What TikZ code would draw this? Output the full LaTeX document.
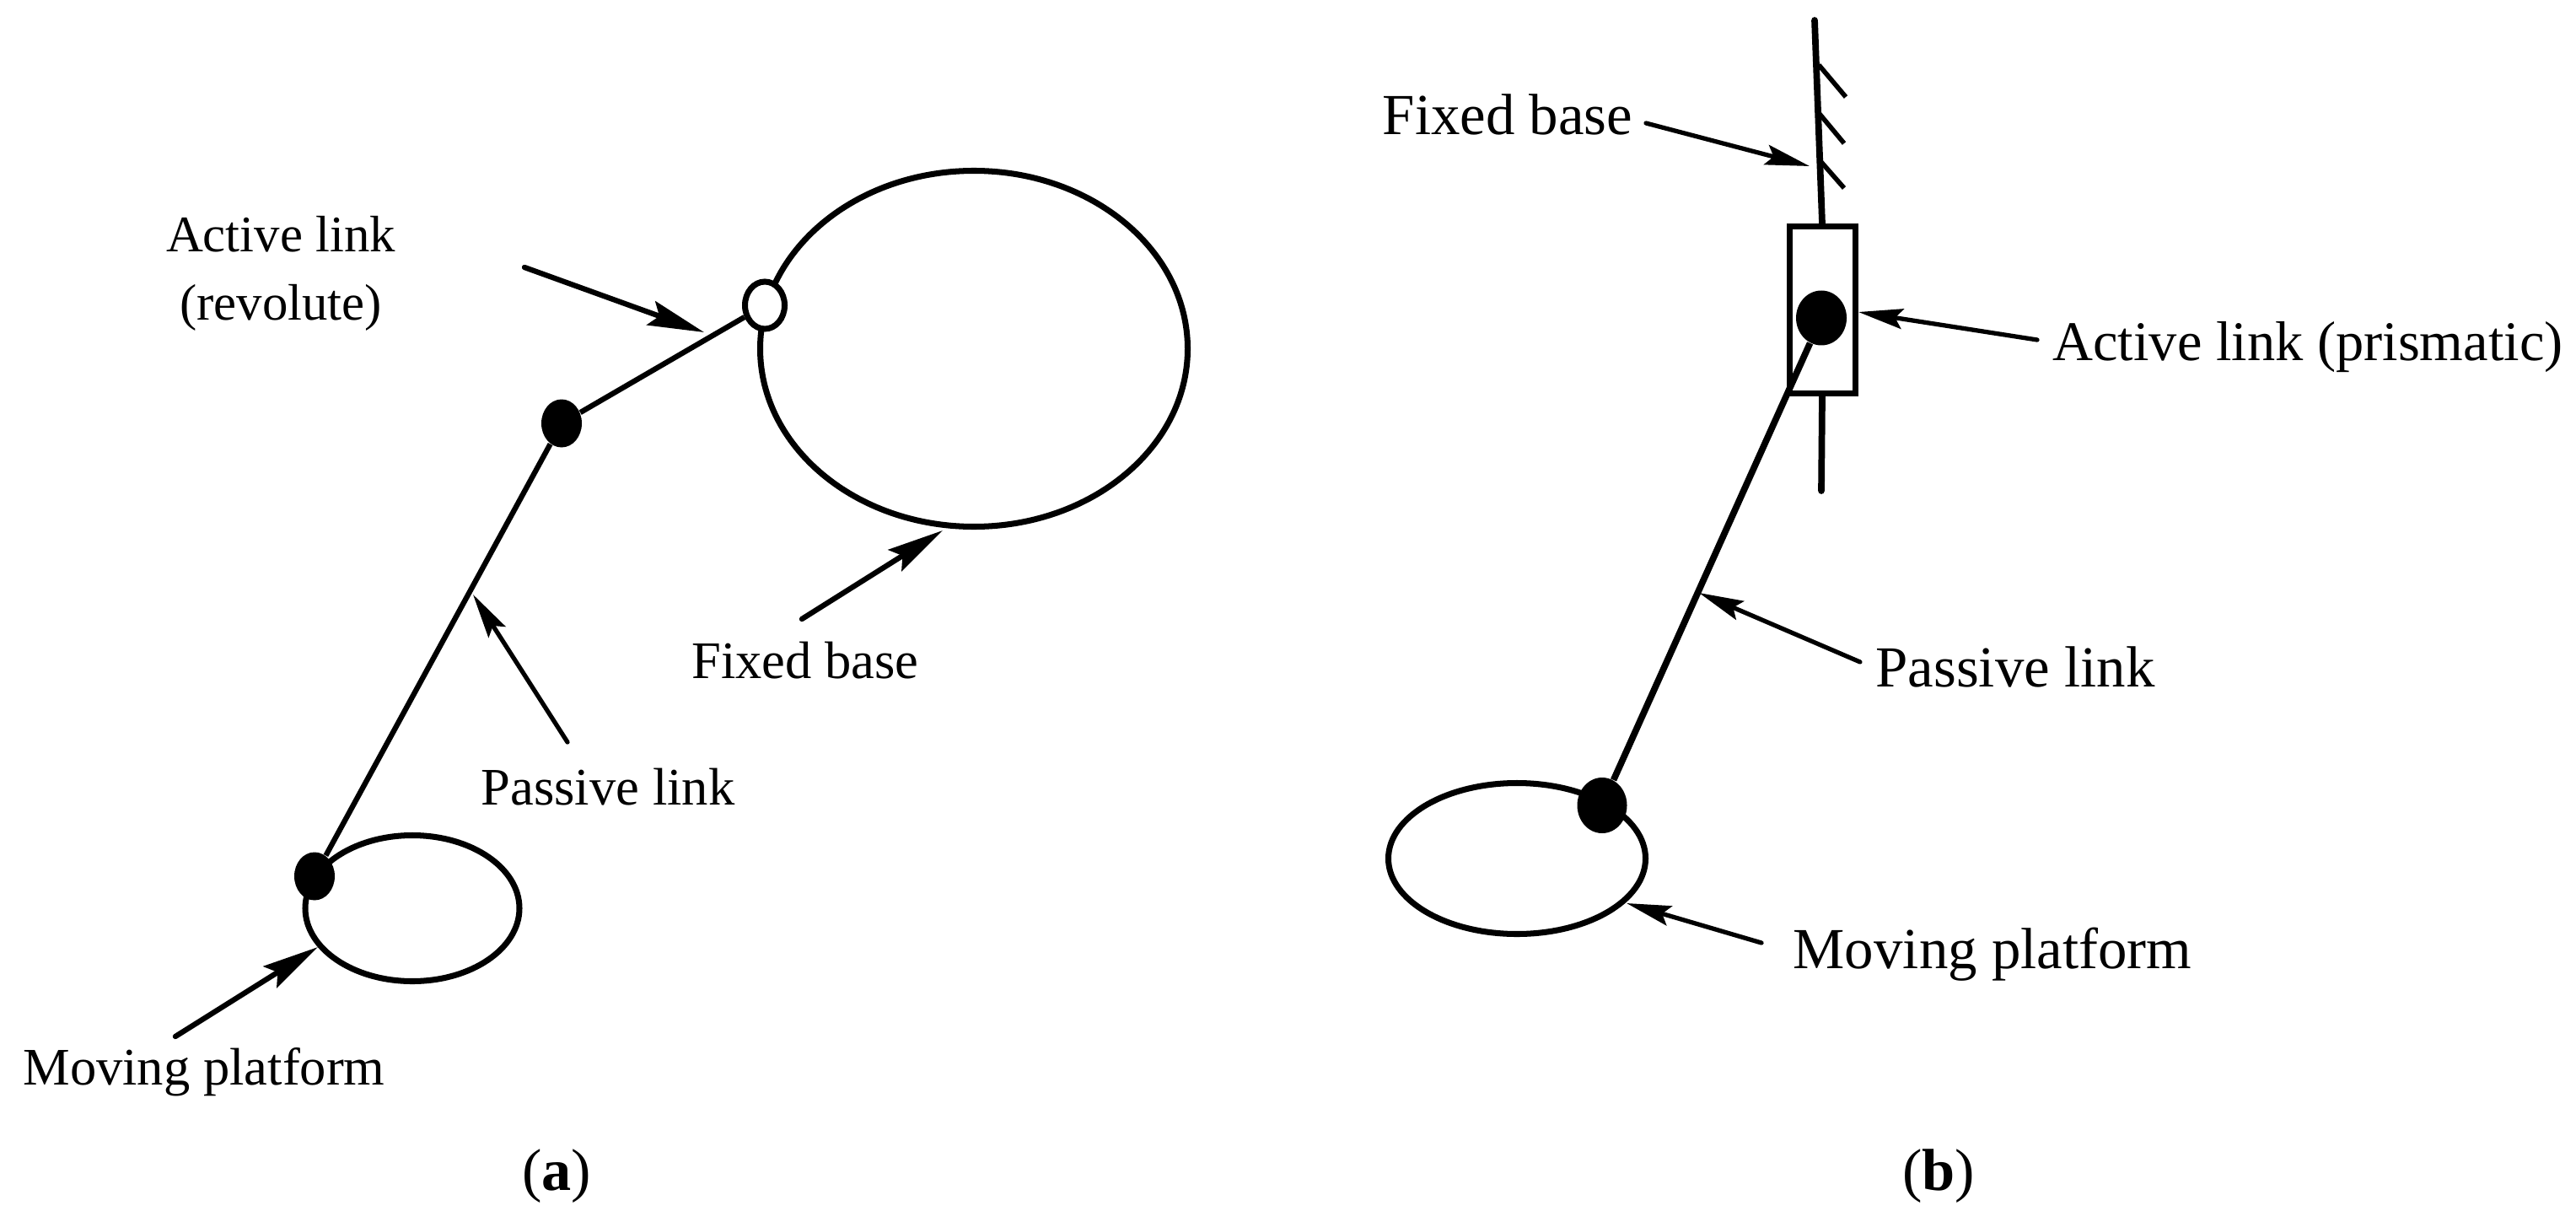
\documentclass[tikz,border=0pt]{standalone}
\usepackage{fontspec}
\setmainfont{Liberation Serif}
\usetikzlibrary{arrows.meta,shapes.geometric}
\tikzset{
  body/.style={ellipse, draw, line width=2pt, inner sep=0pt, fill=none},
  pin/.style={ellipse, fill=black, inner sep=0pt},
  hinge/.style={ellipse, draw, line width=2pt, inner sep=0pt, fill=white},
  link/.style={line width=1.8pt},
  thicklink/.style={line width=2.2pt},
  pointer/.style={line width=1.8pt, line cap=round, -{Stealth[length=19pt,width=8.5pt,inset=3pt]}},
  thinpointer/.style={line width=1.5pt, line cap=round, -{Stealth[length=15pt,width=6.8pt,inset=2.5pt]}},
  tag/.style={align=center, inner sep=0pt, font=\fontsize{17.8}{23}\selectfont},
  bigtag/.style={align=center, inner sep=0pt, font=\fontsize{19.6}{24}\selectfont},
  figlabel/.style={inner sep=0pt, font=\fontsize{20}{24}\selectfont}
}
\begin{document}
\begin{tikzpicture}
\useasboundingbox (0,0) rectangle (30.55,14.48);

% (a)
\node[body, minimum width=5.07cm, minimum height=4.22cm] (baseA) at (11.55,10.345) {};
\node[body, minimum width=2.54cm, minimum height=1.73cm] (platA) at (4.89,3.71) {};
\node[pin, minimum width=0.48cm, minimum height=0.57cm] (elbowA) at (6.66,9.46) {};
\node[pin, minimum width=0.48cm, minimum height=0.57cm] (footA) at (3.73,4.09) {};
\node[hinge, minimum width=0.47cm, minimum height=0.56cm] (hingeA) at (9.07,10.86) {};

\draw[link] (elbowA) -- (hingeA);
\draw[link] (footA) -- (elbowA);

\node[tag, font=\fontsize{17.3}{23}\selectfont] (activeA) at (3.33,11.24) {Active link\\(revolute)};
\node[tag] (fixedA) at (9.55,6.65) {Fixed base};
\node[tag] (passiveA) at (7.21,5.15) {Passive link};
\node[tag] (movingA) at (2.42,1.77) {Moving platform};
\node[figlabel] (labelA) at (6.60,0.53) {(\textbf{a})};

\coordinate (activeAs) at (6.22,11.31);
\coordinate (activeAt) at (8.35,10.54);
\coordinate (fixedAs) at (9.51,7.14);
\coordinate (fixedAt) at (11.18,8.19);
\coordinate (passiveAs) at (6.73,5.68);
\coordinate (passiveAt) at (5.61,7.43);
\coordinate (movingAs) at (2.08,2.19);
\coordinate (movingAt) at (3.77,3.25);

\draw[pointer] (activeAs) -- (activeAt);
\draw[pointer] (fixedAs) -- (fixedAt);
\draw[thinpointer] (passiveAs) -- (passiveAt);
\draw[pointer] (movingAs) -- (movingAt);

% (b)
\node[body, minimum width=3.05cm, minimum height=1.79cm] (platB) at (17.99,4.30) {};
\node[draw, line width=2pt, inner sep=0pt, minimum width=0.78cm, minimum height=1.98cm] (slider) at (21.61,10.805) {};
\node[pin, minimum width=0.60cm, minimum height=0.65cm] (pinB) at (21.60,10.71) {};
\node[pin, minimum width=0.59cm, minimum height=0.66cm] (footB) at (19.00,4.93) {};

\coordinate (railtop) at (21.52,14.24);
\coordinate (railbot) at (21.60,8.66);
\draw[thicklink, line cap=round] (railtop) -- (slider.north);
\draw[thicklink, line cap=round] (railbot) -- (slider.south);
\draw[thicklink] (footB) -- (pinB);

\foreach \i/\xa/\ya/\xb/\yb in {1/21.57/13.71/21.89/13.33, 2/21.57/13.14/21.87/12.78, 3/21.58/12.58/21.87/12.25} {
  \coordinate (hatch\i a) at (\xa,\ya);
  \coordinate (hatch\i b) at (\xb,\yb);
  \draw[line width=1.6pt] (hatch\i a) -- (hatch\i b);
}

\node[bigtag] (fixedB) at (17.88,13.12) {Fixed base};
\node[bigtag, font=\fontsize{18.9}{24}\selectfont] (activeB) at (27.37,10.36) {Active link (prismatic)};
\node[bigtag] (passiveB) at (23.90,6.57) {Passive link};
\node[bigtag] (movingB) at (23.63,3.16) {Moving platform};
\node[figlabel] (labelB) at (22.99,0.53) {(\textbf{b})};

\coordinate (fixedBs) at (19.52,13.02);
\coordinate (fixedBt) at (21.46,12.51);
\coordinate (activeBs) at (24.16,10.45);
\coordinate (activeBt) at (22.04,10.78);
\coordinate (passiveBs) at (22.06,6.63);
\coordinate (passiveBt) at (20.15,7.45);
\coordinate (movingBs) at (20.89,3.30);
\coordinate (movingBt) at (19.29,3.77);

\draw[thinpointer] (fixedBs) -- (fixedBt);
\draw[thinpointer] (activeBs) -- (activeBt);
\draw[thinpointer] (passiveBs) -- (passiveBt);
\draw[thinpointer] (movingBs) -- (movingBt);

\end{tikzpicture}
\end{document}
